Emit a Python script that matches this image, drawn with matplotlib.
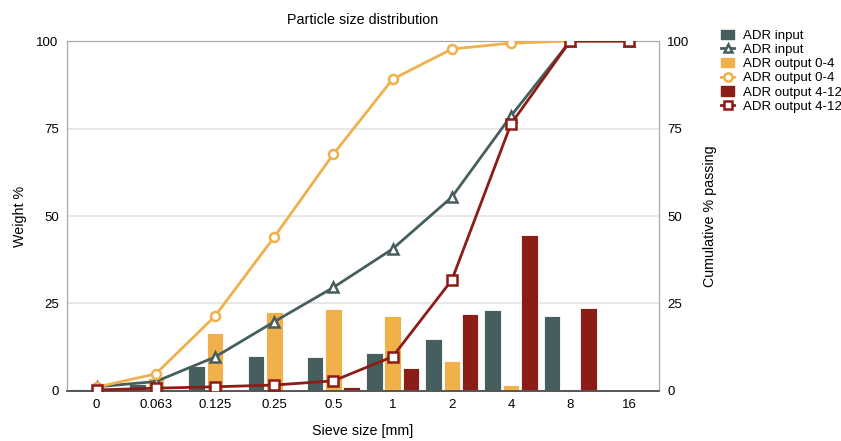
import numpy as np
import matplotlib.pyplot as plt
from matplotlib.patches import Patch
from matplotlib.lines import Line2D

plt.rcParams["font.family"] = ["Liberation Sans", "DejaVu Sans"]

sieves = ["0", "0.063", "0.125", "0.25", "0.5", "1", "2", "4", "8", "16"]

input_weight = [0.6, 1.9, 7.1, 10.0, 9.6, 10.8, 14.8, 23.1, 21.4, 0]
out04_weight = [0.5, 3.7, 16.5, 22.7, 23.4, 21.4, 8.7, 1.6, 0.6, 0]
out412_weight = [0.3, 0.4, 0.4, 0.4, 1.1, 6.6, 22.0, 44.6, 23.6, 0]

input_cum = [1.2, 2.7, 9.7, 19.8, 29.6, 40.6, 55.4, 78.6, 100, 100]
out04_cum = [1.1, 4.9, 21.4, 44.0, 67.7, 89.1, 97.7, 99.4, 100, 100]
out412_cum = [0.3, 0.8, 1.2, 1.7, 2.9, 9.8, 31.7, 76.3, 100, 100]

colors = ["#465e5e", "#f0b04a", "#8b1c16"]
labels = ["ADR input", "ADR output 0-4", "ADR output 4-12"]
markers = ["^", "o", "s"]

fig = plt.figure(figsize=(8.41, 4.41), dpi=100)
ax = fig.add_axes([0.0797, 0.1134, 0.7039, 0.7936])
ax2 = ax.twinx()

x = np.arange(len(sieves))
width = 0.28
offset = 0.31
weights = [input_weight, out04_weight, out412_weight]
cums = [input_cum, out04_cum, out412_cum]

for i in range(3):
    ax.bar(x + (i - 1) * offset, weights[i], width, color=colors[i],
           edgecolor="#ffffff", linewidth=0.6, zorder=2)

for i in range(3):
    ax2.plot(x, cums[i], color=colors[i], lw=2, marker=markers[i],
             markersize=7 if i == 0 else 6.5, markerfacecolor="white",
             markeredgewidth=1.8, zorder=3)

for a in (ax, ax2):
    a.set_ylim(0, 100)
    a.set_yticks([0, 25, 50, 75, 100])
    a.tick_params(length=0, labelsize=9.5, pad=6)
ax.set_xlim(-0.5, len(sieves) - 0.5)
ax.set_xticks(x)
ax.set_xticklabels(sieves)
ax.yaxis.grid(True, color="#e3e3e3", lw=1.2)
ax.set_axisbelow(True)

for a in (ax, ax2):
    a.spines["left"].set_color("#aaaaaa")
    a.spines["right"].set_color("#aaaaaa")
    a.spines["top"].set_color("#aaaaaa")
    a.spines["bottom"].set_color("#555555")
    a.spines["bottom"].set_linewidth(1.2)
ax2.set_zorder(ax.get_zorder() + 1)
ax2.patch.set_visible(False)

ax.set_title("Particle size distribution", fontsize=10.3, pad=12)
ax.set_ylabel("Weight %", fontsize=10.3, labelpad=7)
ax2.set_ylabel("Cumulative % passing", fontsize=10.3, labelpad=10)
ax.set_xlabel("Sieve size [mm]", fontsize=10.3, labelpad=9)

handles = []
for i in range(3):
    handles.append(Patch(facecolor=colors[i], edgecolor=colors[i]))
    handles.append(Line2D([], [], color=colors[i], lw=2, marker=markers[i],
                          markersize=6, markerfacecolor="white",
                          markeredgewidth=1.8))
leg_labels = [labels[0], labels[0], labels[1], labels[1], labels[2], labels[2]]
fig.legend(handles, leg_labels, loc="upper left", bbox_to_anchor=(0.851, 0.945),
           frameon=False, fontsize=9.5, handlelength=1.0, handletextpad=0.7,
           labelspacing=0.15, borderaxespad=0)

plt.savefig("out.png", dpi=100)
